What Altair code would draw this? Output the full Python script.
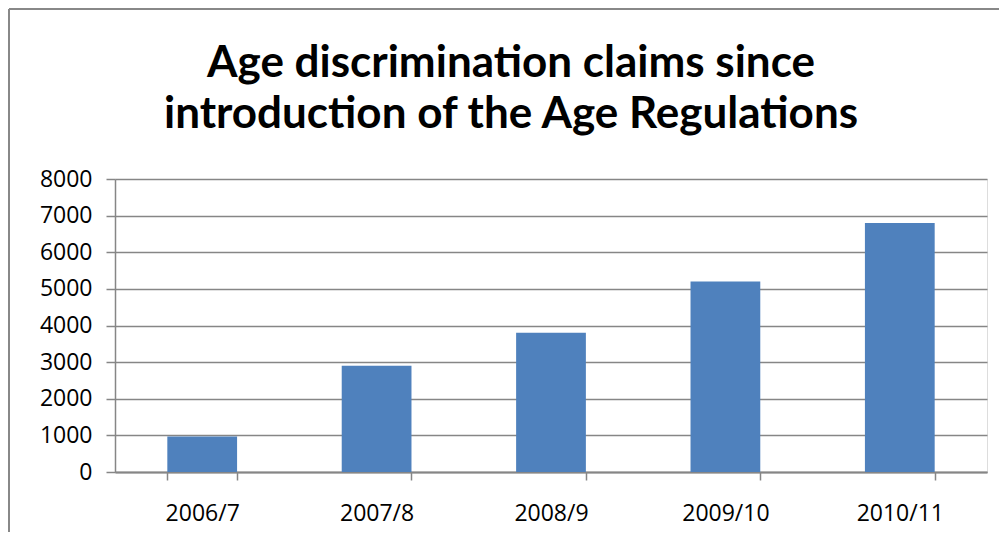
import altair as alt
import pandas as pd

years = ["2006/7", "2007/8", "2008/9", "2009/10", "2010/11"]
claims = [970, 2900, 3800, 5200, 6800]
y_ticks = [0, 1000, 2000, 3000, 4000, 5000, 6000, 7000, 8000]
title_lines = ["Age discrimination claims since", "introduction of the Age Regulations"]

df = pd.DataFrame({"year": years, "claims": claims})
one = pd.DataFrame({"k": [0]})

GRAY = "#868686"

bars = alt.Chart(df).mark_bar(color="#4F81BD").encode(
    x=alt.X("year:N", sort=years,
            scale=alt.Scale(paddingInner=0.6, paddingOuter=0.3),
            axis=alt.Axis(title=None, labelAngle=0, labelFont="Open Sans", labelFontSize=23,
                          labelColor="#000000", labelPadding=22, tickBand="extent",
                          tickSize=8, tickColor=GRAY, tickWidth=1.5,
                          domainColor=GRAY, domainWidth=2, grid=False)),
    y=alt.Y("claims:Q", scale=alt.Scale(domain=[0, 8000], nice=False),
            axis=alt.Axis(title=None, values=y_ticks, format="d", labelFont="Open Sans",
                          labelFontSize=23, labelColor="#000000", labelPadding=14, tickSize=9,
                          tickColor=GRAY, tickWidth=1.5, domainColor=GRAY, domainWidth=1.5,
                          grid=True, gridColor=GRAY, gridWidth=1.6)),
)

title1 = alt.Chart(one).mark_text(font="Lato", fontWeight="bold", fontSize=44, color="#000000",
                                  align="center", baseline="alphabetic").encode(
    x=alt.value(396), y=alt.value(-102), text=alt.value(title_lines[0]))
title2 = alt.Chart(one).mark_text(font="Lato", fontWeight="bold", fontSize=44, color="#000000",
                                  align="center", baseline="alphabetic").encode(
    x=alt.value(396), y=alt.value(-51), text=alt.value(title_lines[1]))

# chart frame (left and top edges visible in the reference)
frame_left = alt.Chart(one).mark_rule(color="#888888", strokeWidth=2).encode(
    x=alt.value(-106), y=alt.value(-170), y2=alt.value(400))
frame_top = alt.Chart(one).mark_rule(color="#888888", strokeWidth=2).encode(
    x=alt.value(-106), x2=alt.value(900), y=alt.value(-170))

chart = alt.layer(bars, title1, title2, frame_left, frame_top).properties(
    width=872, height=293,
    padding={"left": 107, "top": 171, "right": 12, "bottom": 60},
    autosize=alt.AutoSizeParams(type="none"),
).configure_view(stroke=None).configure(background="white")

chart.save("out.html", embed_options={"renderer": "svg", "actions": False})
